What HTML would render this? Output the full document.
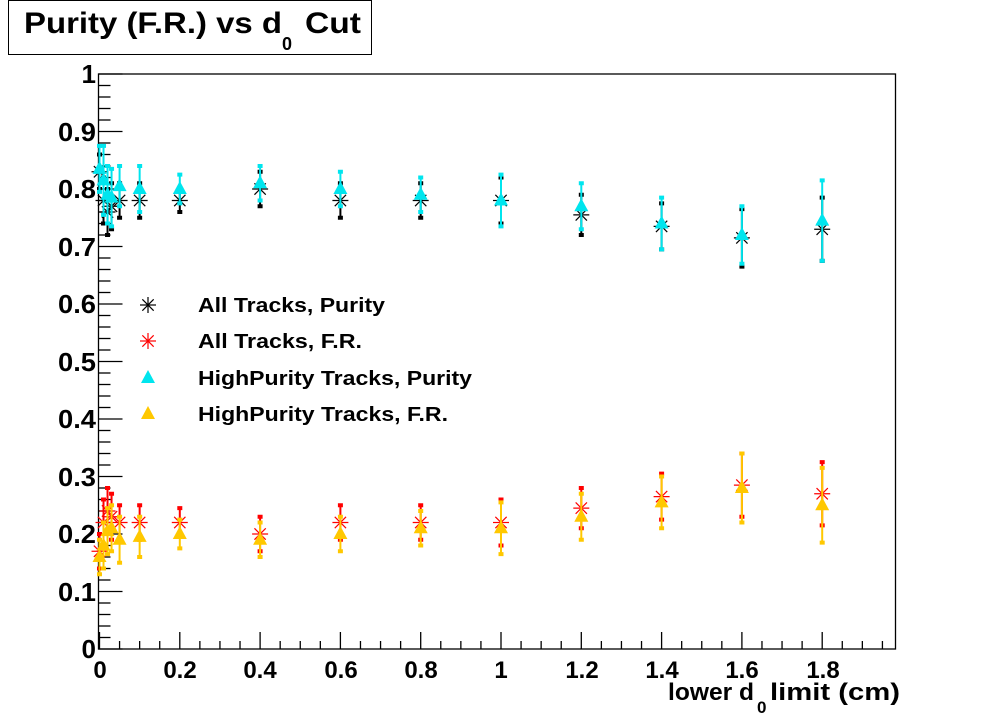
<!DOCTYPE html>
<html><head><meta charset="utf-8"><style>
body{margin:0;background:#fff;}
svg{display:block;font-family:"Liberation Sans",sans-serif;font-weight:bold;}
</style></head><body>
<svg id="s" width="996" height="722" xmlns="http://www.w3.org/2000/svg">
<rect x="0" y="0" width="996" height="722" fill="#fff"/>
<rect x="8.5" y="0.5" width="363" height="54" fill="#fff" stroke="#000" stroke-width="1"/>
<text x="24" y="33" font-size="30" textLength="258" lengthAdjust="spacingAndGlyphs">Purity (F.R.) vs d</text>
<text x="282" y="50" font-size="18">0</text>
<text x="305" y="33" font-size="30" textLength="56" lengthAdjust="spacingAndGlyphs">Cut</text>
<g id="ax" stroke="#000" stroke-width="1.3" fill="none"></g>
<g font-size="26" text-anchor="end">
<text x="96" y="658">0</text><text x="96" y="601" textLength="38" lengthAdjust="spacingAndGlyphs">0.1</text><text x="96" y="543" textLength="38" lengthAdjust="spacingAndGlyphs">0.2</text><text x="96" y="486" textLength="38" lengthAdjust="spacingAndGlyphs">0.3</text><text x="96" y="428" textLength="38" lengthAdjust="spacingAndGlyphs">0.4</text><text x="96" y="371" textLength="38" lengthAdjust="spacingAndGlyphs">0.5</text><text x="96" y="313" textLength="38" lengthAdjust="spacingAndGlyphs">0.6</text><text x="96" y="256" textLength="38" lengthAdjust="spacingAndGlyphs">0.7</text><text x="96" y="198" textLength="38" lengthAdjust="spacingAndGlyphs">0.8</text><text x="96" y="141" textLength="38" lengthAdjust="spacingAndGlyphs">0.9</text><text x="96" y="83">1</text>
</g>
<g font-size="24" text-anchor="middle">
<text x="100" y="678">0</text><text x="180" y="678">0.2</text><text x="260" y="678">0.4</text><text x="341" y="678">0.6</text><text x="421" y="678">0.8</text><text x="501" y="678">1</text><text x="582" y="678">1.2</text><text x="662" y="678">1.4</text><text x="742" y="678">1.6</text><text x="823" y="678">1.8</text>
</g>
<text x="668" y="700" font-size="24" textLength="86" lengthAdjust="spacingAndGlyphs">lower d</text>
<text x="757" y="713" font-size="17">0</text>
<text x="770" y="700" font-size="24" textLength="130" lengthAdjust="spacingAndGlyphs">limit (cm)</text>
<g id="pts"></g>
<g font-size="20">
<text x="198" y="312" textLength="187" lengthAdjust="spacingAndGlyphs">All Tracks, Purity</text>
<text x="198" y="348" textLength="164" lengthAdjust="spacingAndGlyphs">All Tracks, F.R.</text>
<text x="198" y="385" textLength="274" lengthAdjust="spacingAndGlyphs">HighPurity Tracks, Purity</text>
<text x="198" y="421" textLength="250" lengthAdjust="spacingAndGlyphs">HighPurity Tracks, F.R.</text>
</g>
<g id="leg"></g>
</svg>
<script>
const NS="http://www.w3.org/2000/svg";
const X0=99.5,XS=401.5,Y0=649,YS=575;
function px(x){return X0+x*XS} function py(y){return Y0-y*YS}
function el(p,t,a){const e=document.createElementNS(NS,t);for(const k in a)e.setAttribute(k,a[k]);p.appendChild(e);return e}
const ax=document.getElementById('ax');
el(ax,'rect',{x:98.5,y:74,width:797,height:575});
for(let i=0;i<=50;i++){const y=py(i*0.02);el(ax,'line',{x1:98.5,x2:98.5+(i%5?12:24),y1:y,y2:y});}
for(let i=0;i<=39;i++){const x=px(i*0.05);if(x>896)break;el(ax,'line',{x1:x,x2:x,y1:649,y2:649-(i%4?8:17)});}
const xs=[0,0.01,0.02,0.03,0.05,0.1,0.2,0.4,0.6,0.8,1.0,1.2,1.4,1.6,1.8];
const S=[
 {c:'#000',m:'star',d:[[.83,.03],[.78,.04],[.76,.04],[.77,.04],[.78,.03],[.78,.03],[.78,.02],[.80,.03],[.78,.03],[.78,.03],[.78,.04],[.755,.035],[.735,.04],[.715,.05],[.73,.055]]},
 {c:'#ff0000',m:'star',d:[[.17,.03],[.22,.04],[.24,.04],[.23,.04],[.22,.03],[.22,.03],[.22,.025],[.20,.03],[.22,.03],[.22,.03],[.22,.04],[.245,.035],[.265,.04],[.285,.055],[.27,.055]]},
 {c:'#00e5ee',m:'tri',d:[[.835,.04],[.815,.06],[.79,.05],[.785,.05],[.805,.035],[.80,.04],[.80,.025],[.81,.03],[.80,.03],[.79,.03],[.78,.045],[.77,.04],[.74,.045],[.72,.05],[.745,.07]]},
 {c:'#ffc800',m:'tri',d:[[.16,.03],[.18,.04],[.205,.04],[.21,.04],[.19,.04],[.195,.035],[.20,.025],[.19,.03],[.20,.03],[.21,.03],[.21,.045],[.23,.04],[.255,.045],[.28,.06],[.25,.065]]}];
const g=document.getElementById('pts');
function mark(p,m,c,x,y){
 if(m=='star'){for(const a of [0,45,90,135]){const r=a*Math.PI/180,dx=8*Math.cos(r),dy=8*Math.sin(r);el(p,'line',{x1:x-dx,y1:y-dy,x2:x+dx,y2:y+dy,stroke:c,'stroke-width':1.2});}}
 else el(p,'polygon',{points:`${x},${y-8} ${x-7},${y+5} ${x+7},${y+5}`,fill:c});
}
[0,2,1,3].forEach(k=>{const s=S[k];s.d.forEach((d,i)=>{const x=px(xs[i]),y=py(d[0]),e=d[1]*YS;
 el(g,'line',{x1:x,x2:x,y1:y-e,y2:y+e,stroke:s.c,'stroke-width':2});
 el(g,'rect',{x:x-2.5,y:y-e-2,width:5,height:4,fill:s.c});
 el(g,'rect',{x:x-2.5,y:y+e-2,width:5,height:4,fill:s.c});
 mark(g,s.m,s.c,x,y);});});
const lg=document.getElementById('leg');
S.forEach((s,i)=>mark(lg,s.m,s.c,148,[305,341,378,414][i]));
</script>
</body></html>
